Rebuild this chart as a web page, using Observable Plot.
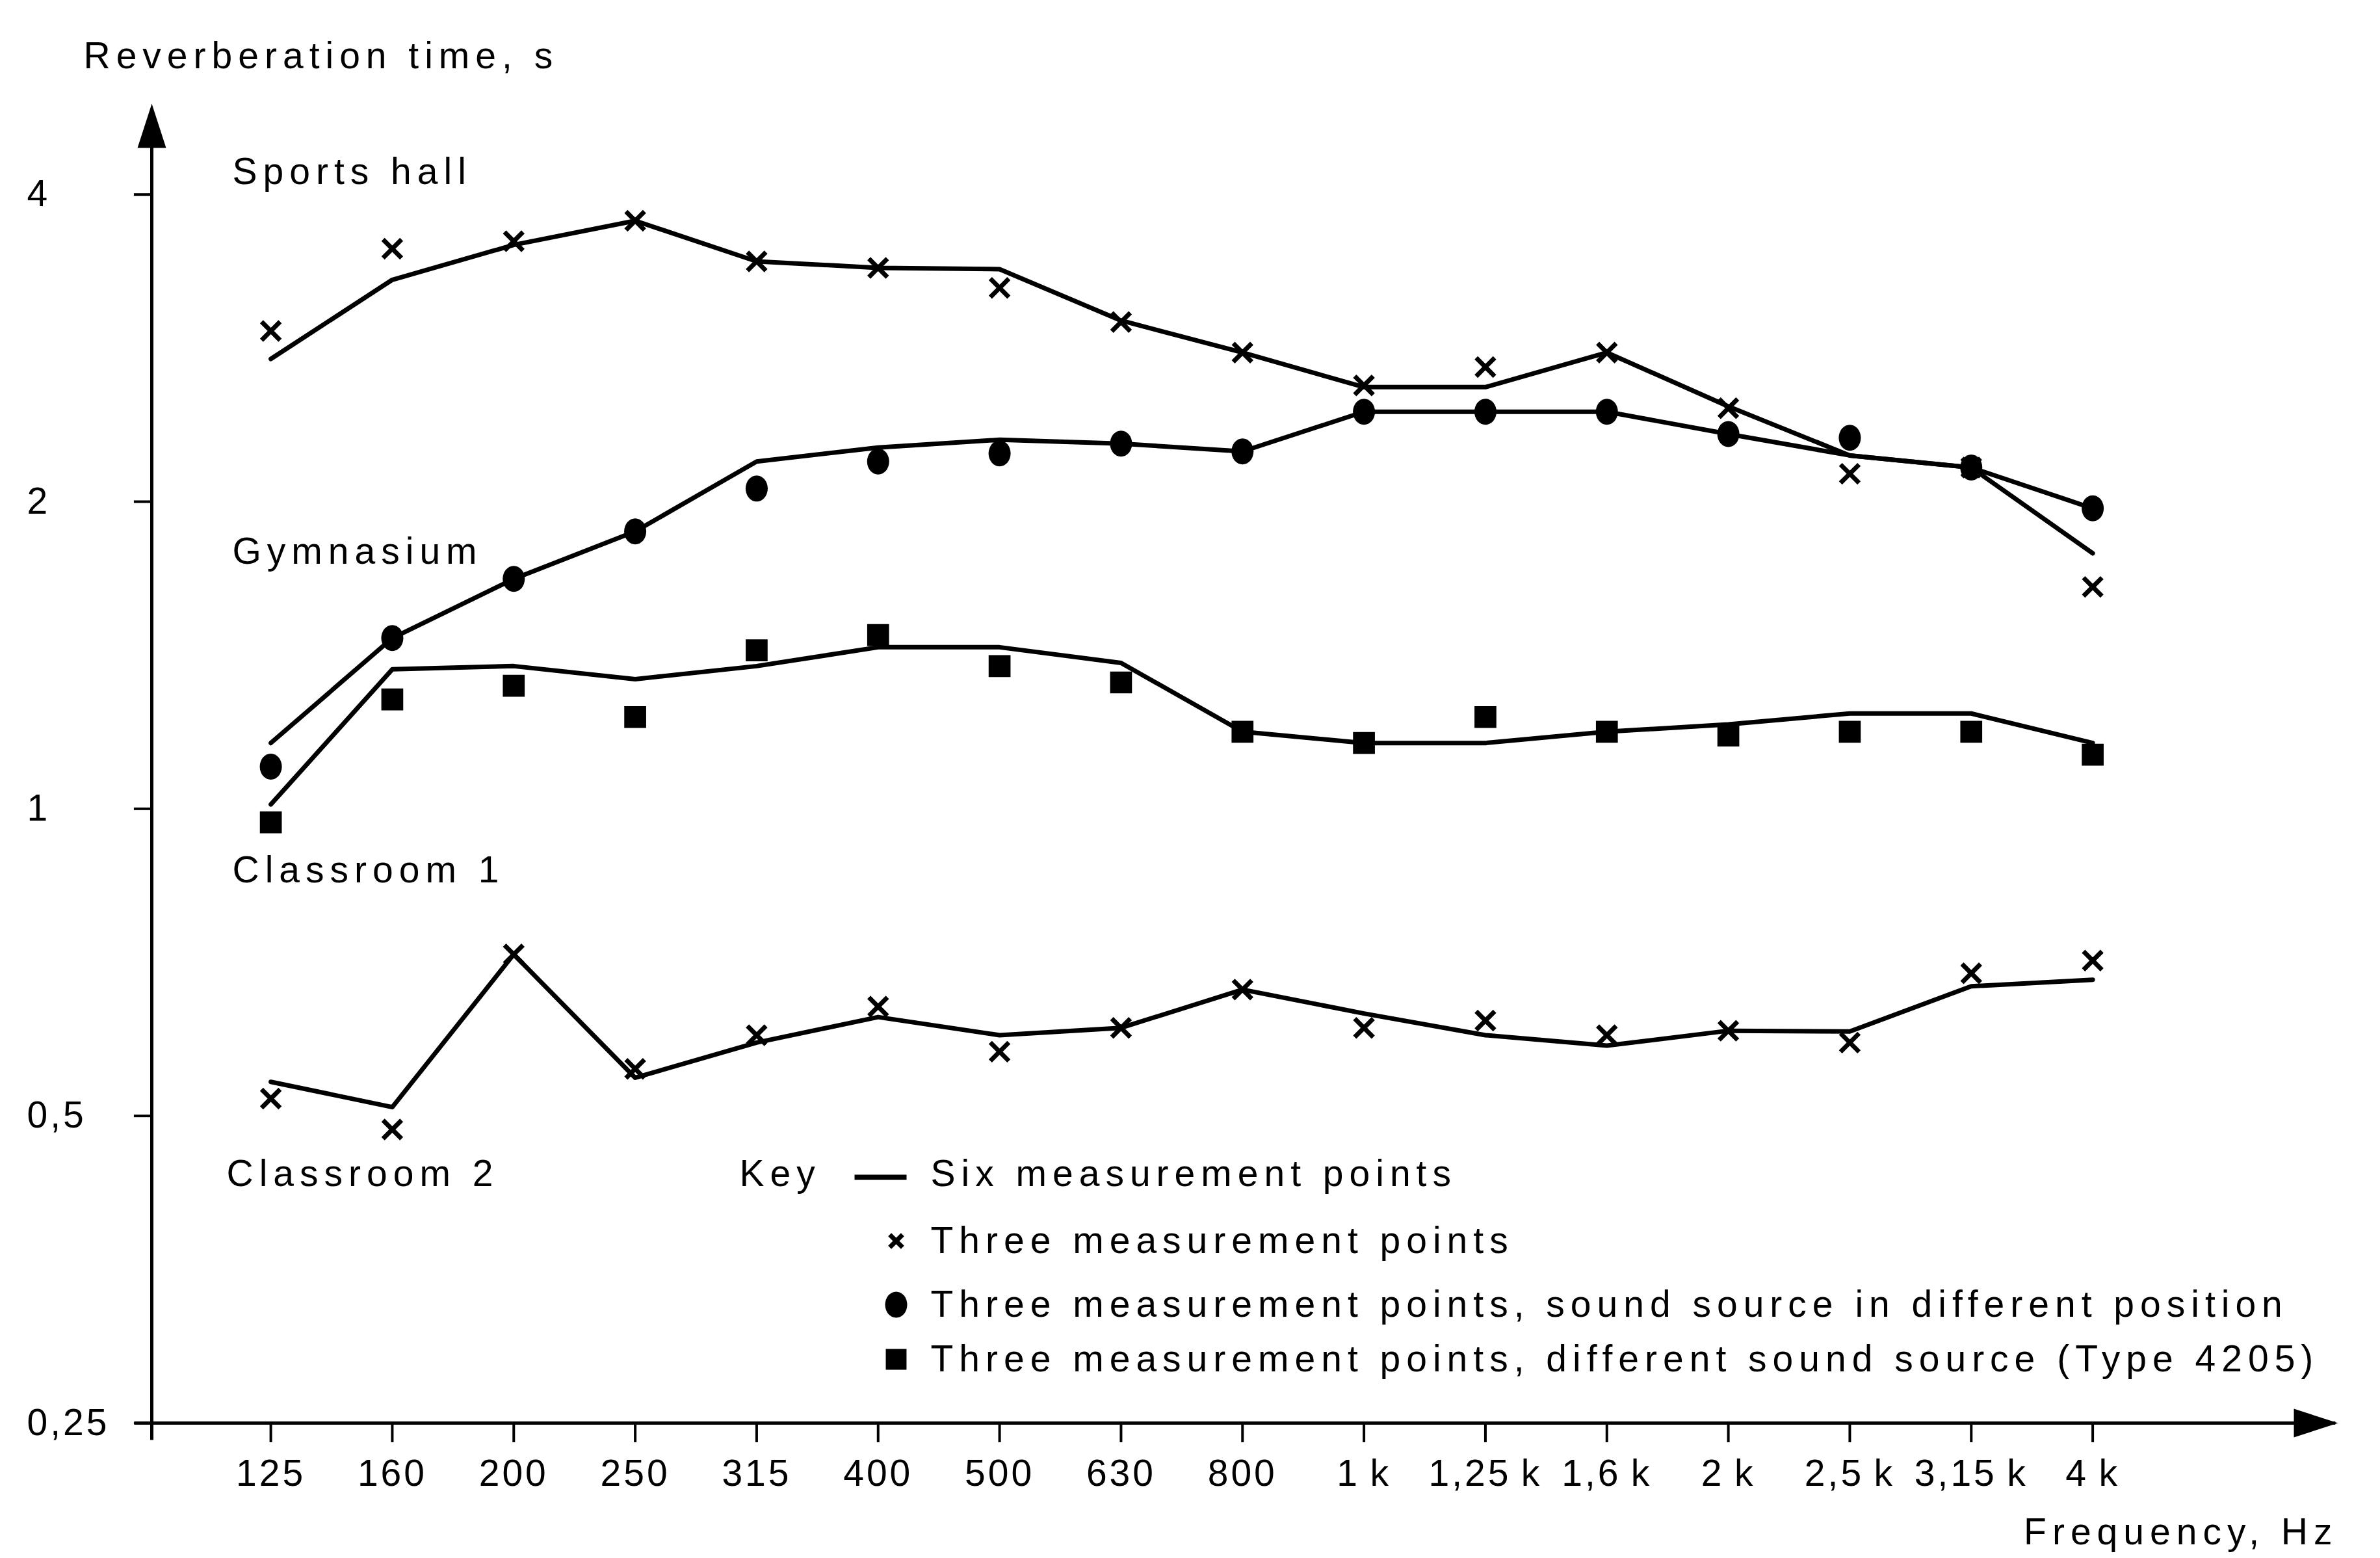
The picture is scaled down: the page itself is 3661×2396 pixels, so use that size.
<!DOCTYPE html>
<html>
<head>
<meta charset="utf-8">
<script src="https://cdn.jsdelivr.net/npm/d3@7"></script>
<script src="https://cdn.jsdelivr.net/npm/@observablehq/plot@0.6"></script>
<style>html,body{margin:0;padding:0;background:#fff}</style>
</head>
<body>
<div id="chart"></div>
<script>
// ---- data ----
const freqLabels = ["125","160","200","250","315","400","500","630","800","1\u2009k","1,25\u2009k","1,6\u2009k","2\u2009k","2,5\u2009k","3,15\u2009k","4\u2009k"];
const rooms = ["Sports hall","Gymnasium","Classroom 1","Classroom 2"];
// six measurement points (solid lines)
const sportsHallLine = [2.76,3.30,3.57,3.77,3.44,3.39,3.38,3.01,2.80,2.59,2.59,2.80,2.48,2.22,2.16,1.78];
const gymnasiumLine  = [1.16,1.47,1.68,1.87,2.19,2.26,2.30,2.28,2.24,2.45,2.45,2.45,2.33,2.22,2.16,1.97];
const classroom1Line = [1.01,1.37,1.38,1.34,1.38,1.44,1.44,1.39,1.19,1.16,1.16,1.19,1.21,1.24,1.24,1.16];
const classroom2Line = [0.54,0.51,0.72,0.545,0.59,0.625,0.60,0.61,0.665,0.63,0.60,0.586,0.606,0.605,0.67,0.68];
// three measurement points (markers)
const sportsHallPts  = [2.94,3.54,3.60,3.77,3.44,3.39,3.24,3.00,2.80,2.60,2.71,2.80,2.47,2.13,2.16,1.65];
const gymnasiumPts   = [1.10,1.47,1.68,1.87,2.06,2.19,2.23,2.28,2.24,2.45,2.45,2.45,2.33,2.31,2.16,1.97];
const classroom1Pts  = [0.97,1.28,1.32,1.23,1.43,1.48,1.38,1.33,1.19,1.16,1.23,1.19,1.18,1.19,1.19,1.13];
const classroom2Pts  = [0.52,0.485,0.72,0.556,0.60,0.64,0.578,0.61,0.665,0.61,0.62,0.60,0.606,0.59,0.69,0.71];
const yTicks = [0.25,0.5,1,2,4];
const yTitle = "Reverberation time, s";
const xTitle = "Frequency, Hz";
const keyTitle = "Key";
const keyLabels = [
  "Six measurement points",
  "Three measurement points",
  "Three measurement points, sound source in different position",
  "Three measurement points, different sound source (Type 4205)"
];

// ---- tables built from the arrays ----
const lineSeries = [sportsHallLine, gymnasiumLine, classroom1Line, classroom2Line];
const ptSeries = [sportsHallPts, gymnasiumPts, classroom1Pts, classroom2Pts];
const ptSymbol = ["times","circle","square","times"];
const lines = rooms.flatMap((room, r) => lineSeries[r].map((v, i) => ({room, i, v})));
const points = rooms.flatMap((room, r) => ptSeries[r].map((v, i) => ({room, i, v, symbol: ptSymbol[r]})));

// ---- styling helpers (shapes only) ----
const arrowHead = {draw(ctx) { ctx.moveTo(0, 0); ctx.lineTo(22, 68); ctx.lineTo(-22, 68); ctx.closePath(); }};
const keyDash = {draw(ctx) { ctx.rect(-40, -4, 80, 8); }};
function ellipsePath(ctx, rx, ry) {
  const k = 0.5523, ox = rx * k, oy = ry * k;
  ctx.moveTo(-rx, 0);
  ctx.bezierCurveTo(-rx, -oy, -ox, -ry, 0, -ry);
  ctx.bezierCurveTo(ox, -ry, rx, -oy, rx, 0);
  ctx.bezierCurveTo(rx, oy, ox, ry, 0, ry);
  ctx.bezierCurveTo(-ox, ry, -rx, oy, -rx, 0);
  ctx.closePath();
}
const ovalDot = {draw(ctx) { ellipsePath(ctx, 17, 20); }};

const font = "'Liberation Sans', Arial, Helvetica, sans-serif";
const fs = 57;
const xDomain = [-0.98, 17.02];
const roomOffsets = [[124,105],[124,689],[124,1179],[115,1646]];
const keyRowDy = [1646,1749,1847,1931];

const chart = Plot.plot({
  width: 3661,
  height: 2396,
  marginTop: 159,
  marginLeft: 233,
  marginRight: 65,
  marginBottom: 208,
  style: {fontFamily: font, fontSize: fs + "px", letterSpacing: "9px", color: "black", background: "white"},
  x: {type: "linear", domain: xDomain},
  y: {type: "log", domain: [0.25, 4.91]},
  marks: [
    // axes lines
    Plot.ruleY([0.25], {x1: xDomain[0] - 0.14, x2: 17.0, strokeWidth: 5}),
    Plot.ruleX([xDomain[0]], {y1: 0.2405, y2: 4.75, strokeWidth: 5}),
    Plot.dot([0], {frameAnchor: "top-left", symbol: arrowHead, r: 10, fill: "black", stroke: "none"}),
    Plot.dot([0], {frameAnchor: "bottom-right", symbol: arrowHead, rotate: 90, r: 10, fill: "black", stroke: "none"}),
    // y ticks (marks) and labels
    Plot.ruleY(yTicks, {x1: xDomain[0] - 0.145, x2: xDomain[0], strokeWidth: 4}),
    Plot.axisY({ticks: yTicks, tickSize: 0, tickFormat: d => String(d).replace(".", ","),
      textAnchor: "start", dx: -183, fontSize: fs, label: null}),
    Plot.axisX({ticks: d3.range(freqLabels.length), tickSize: 30, tickPadding: 26, strokeWidth: 4,
      tickFormat: i => freqLabels[i], fontSize: fs, label: null}),
    // data
    Plot.line(lines, {x: "i", y: "v", z: "room", stroke: "black", strokeWidth: 7, strokeLinejoin: "round"}),
    Plot.dot(points.filter(d => d.symbol === "times"), {x: "i", y: "v", symbol: "times", r: 13, stroke: "black", strokeWidth: 7}),
    Plot.dot(points.filter(d => d.symbol === "circle"), {x: "i", y: "v", symbol: ovalDot, r: 19, fill: "black", stroke: "none"}),
    Plot.dot(points.filter(d => d.symbol === "square"), {x: "i", y: "v", symbol: "square", r: 19, fill: "black", stroke: "none"}),
    // titles
    Plot.text([yTitle], {text: d => d, frameAnchor: "top-left", dx: -105, dy: -73, textAnchor: "start", lineAnchor: "middle", fontSize: fs}),
    Plot.text([xTitle], {text: d => d, frameAnchor: "bottom-right", dx: 0, dy: 168, textAnchor: "end", lineAnchor: "middle", fontSize: fs}),
    // room labels
    ...rooms.map((room, r) => Plot.text([room], {text: d => d, frameAnchor: "top-left", dx: roomOffsets[r][0], dy: roomOffsets[r][1], textAnchor: "start", lineAnchor: "middle", fontSize: fs})),
    // key
    Plot.text([keyTitle], {text: d => d, frameAnchor: "top-left", dx: 904, dy: keyRowDy[0], textAnchor: "start", lineAnchor: "middle", fontSize: fs}),
    Plot.dot([0], {frameAnchor: "top-left", dx: 1121, dy: keyRowDy[0] + 5, symbol: keyDash, r: 10, fill: "black", stroke: "none"}),
    Plot.dot([0], {frameAnchor: "top-left", dx: 1145, dy: keyRowDy[1], symbol: "times", r: 9, stroke: "black", strokeWidth: 7}),
    Plot.dot([0], {frameAnchor: "top-left", dx: 1145, dy: keyRowDy[2], symbol: ovalDot, r: 18, fill: "black", stroke: "none"}),
    Plot.dot([0], {frameAnchor: "top-left", dx: 1145, dy: keyRowDy[3], symbol: "square", r: 18, fill: "black", stroke: "none"}),
    ...keyLabels.map((label, k) => Plot.text([label], {text: d => d, frameAnchor: "top-left", dx: 1198, dy: keyRowDy[k], textAnchor: "start", lineAnchor: "middle", fontSize: fs}))
  ]
});
// tighter tracking for the numeric tick labels
d3.select(chart).selectAll('g[aria-label="x-axis tick label"], g[aria-label="y-axis tick label"]').attr("letter-spacing", "4px");
document.getElementById("chart").append(chart);
</script>
</body>
</html>
